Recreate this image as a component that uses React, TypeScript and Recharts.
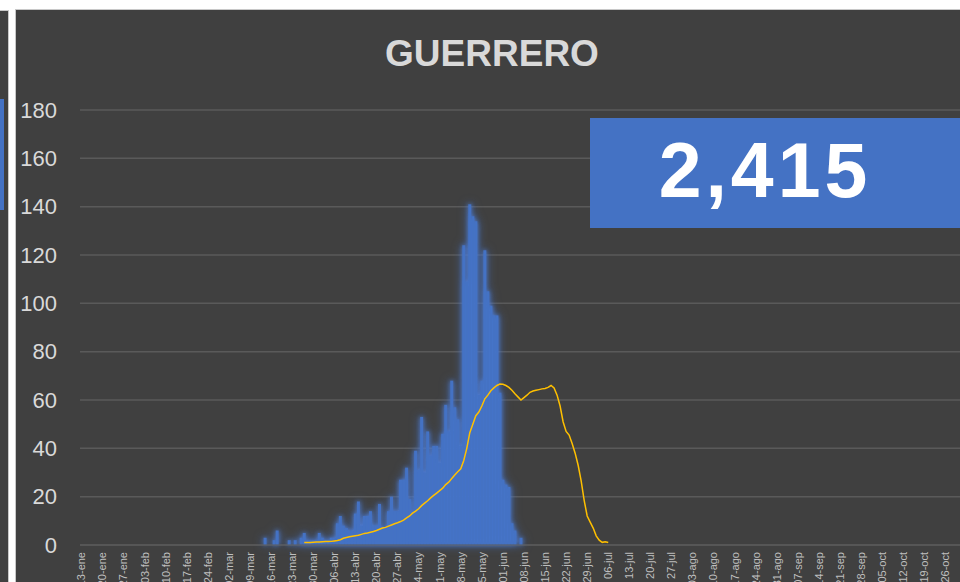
import React from 'react';
import { ComposedChart, Bar, Line, XAxis, YAxis, CartesianGrid } from 'recharts';

// weekly tick labels (every 7th day from 13-ene)
const weekLabels = [
  '13-ene', '20-ene', '27-ene', '03-feb', '10-feb', '17-feb', '24-feb', '02-mar', '09-mar', '16-mar',
  '23-mar', '30-mar', '06-abr', '13-abr', '20-abr', '27-abr', '04-may', '11-may', '18-may', '25-may',
  '01-jun', '08-jun', '15-jun', '22-jun', '29-jun', '06-jul', '13-jul', '20-jul', '27-jul', '03-ago',
  '10-ago', '17-ago', '24-ago', '31-ago', '07-sep', '14-sep', '21-sep', '28-sep', '05-oct', '12-oct',
  '19-oct', '26-oct', '02-nov',
];
const totalDays = 301;

// daily new cases, first value is day 61 (14-mar)
const casesStart = 61;
const dailyCases = [
  3, 0, 0, 2, 6, 0, 0, 0, 2, 0, 2, 0, 3, 5, 2, 2, 2, 2, 5, 3,
  2, 2, 3, 3, 9, 12, 8, 7, 6, 6, 13, 18, 8, 12, 12, 14, 8, 8, 17, 7,
  7, 14, 20, 14, 14, 27, 27, 32, 19, 13, 39, 31, 53, 30, 47, 37, 41, 41, 34, 46,
  58, 47, 68, 57, 52, 41, 124, 109, 141, 136, 134, 62, 68, 122, 105, 99, 95, 95, 63, 27,
  25, 24, 9, 6, 0, 3,
];

// moving average, first value is day 74 (27-mar)
const avgStart = 74;
const movingAvg = [
  1, 1, 1, 1.1, 1.2, 1.2, 1.3, 1.4, 1.4, 1.5,
  1.7, 1.9, 2.2, 2.8, 3.1, 3.4, 3.6, 3.8, 4, 4.4,
  4.8, 5, 5.3, 5.6, 6, 6.5, 7, 7.3, 7.8, 8.3,
  8.8, 9.2, 9.7, 10.3, 11.2, 12, 13.2, 14, 15, 16.3,
  17.3, 18.3, 19.5, 20.5, 21.5, 22.5, 23.5, 25, 26, 27.5,
  29, 30.3, 31.5, 35, 40, 46.5, 50, 53.5, 55, 57.5,
  60.5, 62, 63.8, 65, 66, 66.6, 66.5, 66, 65.2, 64,
  62.6, 61.3, 60, 61, 62, 63.2, 63.7, 64, 64.3, 64.6,
  64.8, 65.2, 66, 65, 62, 57.5, 51, 47, 45.5, 42,
  38, 33, 26.5, 18.5, 12, 9.5, 7, 3.8, 2, 1.1,
  1.3, 1,
];

const yTicks = [0, 20, 40, 60, 80, 100, 120, 140, 160, 180];
const totalCases = '2,415';

const data = Array.from({ length: totalDays }, (_, d) => {
  const c = d - casesStart;
  const a = d - avgStart;
  return {
    day: d,
    cases: c >= 0 && c < dailyCases.length ? dailyCases[c] : 0,
    avg: a >= 0 && a < movingAvg.length ? movingAvg[a] : null,
  };
});

const weekTicks = weekLabels.map((_, i) => i * 7);

const FONT = '"Liberation Sans", Arial, sans-serif';

const DateTick = (props: any) => {
  const { x, y, payload } = props;
  const label = weekLabels[Math.round(payload.value / 7)] ?? '';
  return (
    <text
      x={x}
      y={y}
      dy="0.35em"
      transform={`rotate(-90, ${x}, ${y})`}
      textAnchor="end"
      fill="#bfbfbf"
      fontSize={11}
      fontFamily={FONT}
    >
      {label}
    </text>
  );
};

export default function App() {
  return (
    <div
      style={{
        position: 'fixed',
        left: 0,
        top: 0,
        width: 960,
        height: 582,
        overflow: 'hidden',
        background: '#ffffff',
        fontFamily: FONT,
      }}
    >
      <style>{`.recharts-bar { filter: drop-shadow(0 0 2px rgba(80,130,225,0.9)) drop-shadow(0 0 4px rgba(68,114,196,0.75)); }`}</style>
      {/* edge of the neighbouring panel */}
      <div
        style={{
          position: 'absolute',
          left: -2,
          top: 10,
          width: 9,
          height: 600,
          background: '#404040',
          border: '1px solid #c8c8c8',
        }}
      />
      <div style={{ position: 'absolute', left: 0, top: 99, width: 4, height: 111, background: '#4472C4' }} />
      {/* main panel */}
      <div
        style={{
          position: 'absolute',
          left: 15,
          top: 9,
          width: 1000,
          height: 600,
          background: '#404040',
          border: '1px solid #c8c8c8',
        }}
      />
      <div style={{ position: 'absolute', left: 0, top: 0 }}>
        <ComposedChart
          width={1000}
          height={600}
          data={data}
          margin={{ top: 110, right: 14, bottom: 0, left: 0 }}
          barCategoryGap={0}
          barGap={0}
        >
          <CartesianGrid vertical={false} stroke="#5a5a5a" strokeWidth={1.5} />
          <XAxis
            dataKey="day"
            type="category"
            ticks={weekTicks}
            interval={0}
            height={55}
            tickSize={0}
            tickMargin={7}
            tickLine={false}
            axisLine={{ stroke: '#5a5a5a' }}
            tick={<DateTick />}
          />
          <YAxis
            domain={[0, 180]}
            ticks={yTicks}
            width={80}
            tickSize={0}
            tickMargin={23}
            tickLine={false}
            axisLine={false}
            tick={{ fill: '#d9d9d9', fontSize: 22, fontFamily: FONT }}
          />
          <Bar dataKey="cases" fill="#4472C4" isAnimationActive={false} />
          <Line
            dataKey="avg"
            type="linear"
            stroke="#FFC000"
            strokeWidth={1.5}
            dot={false}
            activeDot={false}
            connectNulls={false}
            isAnimationActive={false}
          />
        </ComposedChart>
      </div>
      <svg
        width={960}
        height={582}
        style={{ position: 'absolute', left: 0, top: 0, pointerEvents: 'none' }}
      >
        <text
          x={492}
          y={66}
          textAnchor="middle"
          fontFamily={FONT}
          fontWeight="bold"
          fontSize={37}
          fill="#d9d9d9"
        >
          GUERRERO
        </text>
        <rect x={590} y={118} width={380} height={110} fill="#4472C4" />
        <text
          x={765}
          y={197}
          textAnchor="middle"
          fontFamily={FONT}
          fontWeight="bold"
          fontSize={77}
          letterSpacing={4}
          fill="#ffffff"
        >
          {totalCases}
        </text>
      </svg>
    </div>
  );
}
